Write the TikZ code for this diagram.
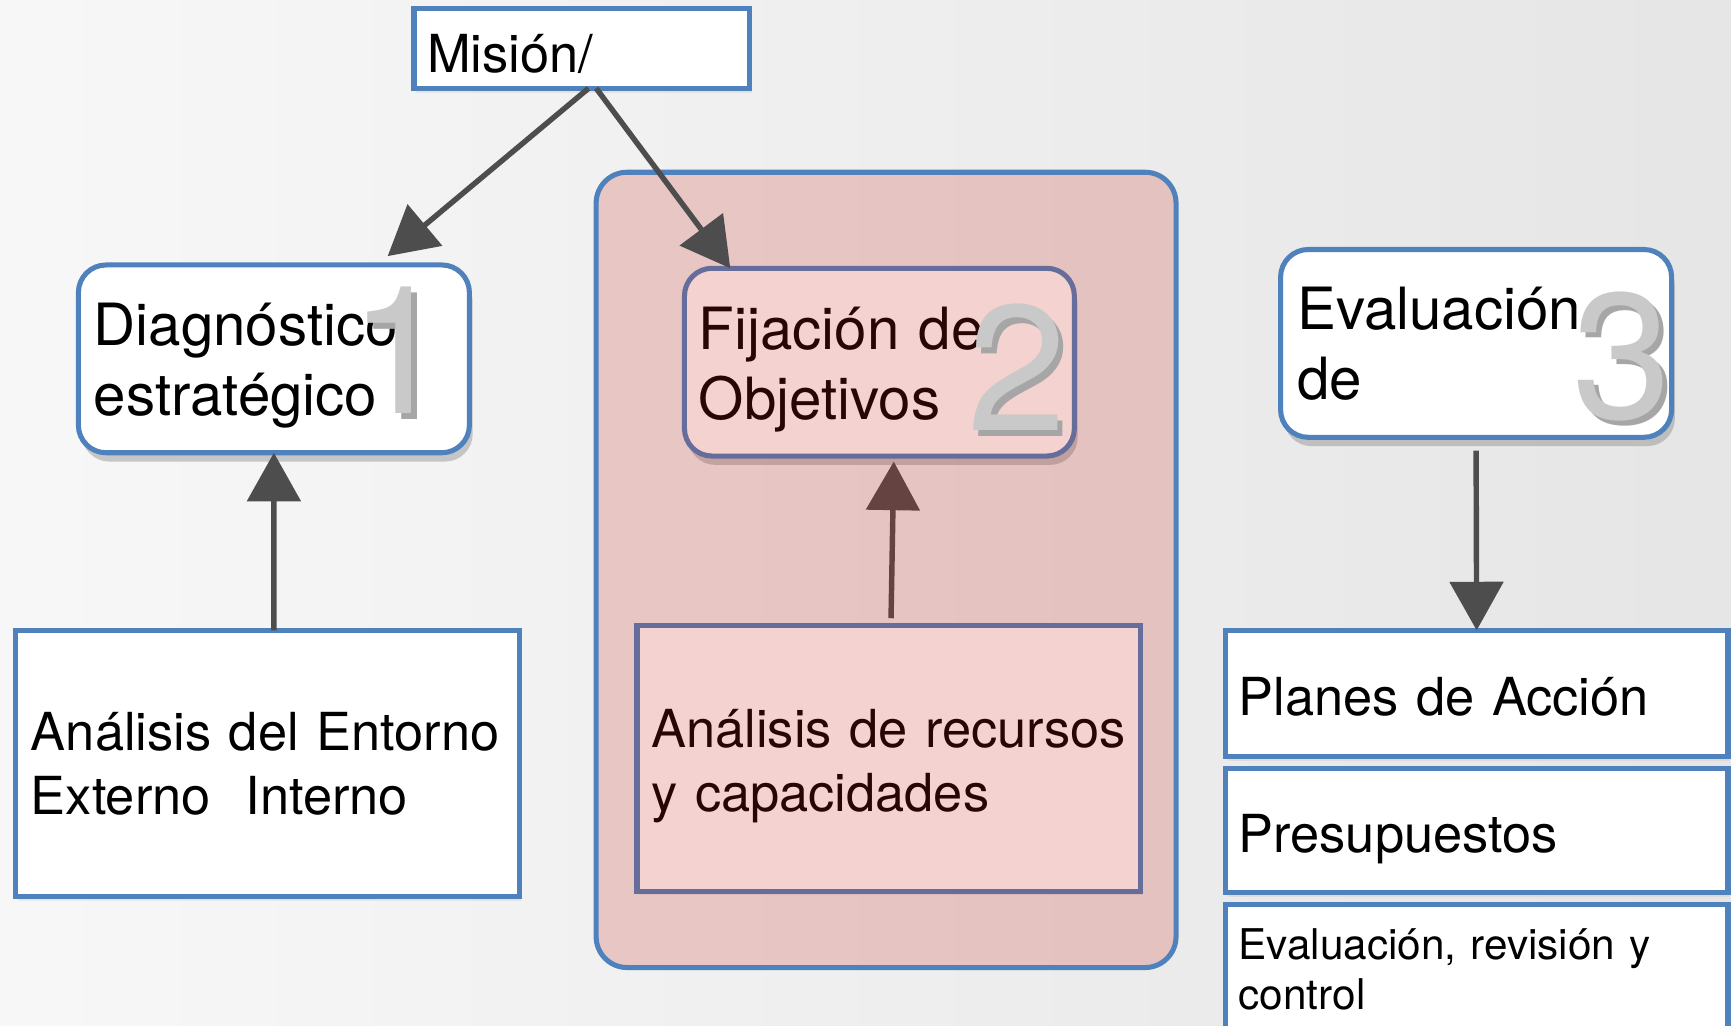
\documentclass[tikz,border=0pt]{standalone}
\usepackage{fontspec}
\setmainfont{TeX Gyre Heros}
\usetikzlibrary{arrows.meta,shadows}
\definecolor{ofblue}{HTML}{4F81BD}
\definecolor{ovred}{HTML}{C31E10}
\definecolor{arrgray}{HTML}{4D4D4D}
\definecolor{numgray}{HTML}{C9C9C9}
\hyphenpenalty=10000

\begin{document}
\begin{tikzpicture}[x=0.01cm,y=-0.01cm,
	box/.style={draw=ofblue,line width=1.3pt,fill=white,align=left,anchor=north west,inner ysep=0pt,outer sep=0pt},
	rbox/.style={box,rounded corners=0.25cm,drop shadow={shadow xshift=0.03cm,shadow yshift=-0.08cm,opacity=0.4}},
	sbox/.style={box,drop shadow={shadow xshift=0.02cm,shadow yshift=-0.04cm,opacity=0.12}},
	big/.style={font=\fontsize{15}{18}\selectfont},
	mid/.style={font=\fontsize{13.5}{16.5}\selectfont},
	arr/.style={draw=arrgray,line width=1.4pt,-{Triangle[length=0.44cm,width=0.48cm]}}]
\useasboundingbox (0,0) rectangle (1568,929);
\shade[left color=white!97!black,right color=black!10!white] (0,0) rectangle (1568,929);

\node[sbox,font=\fontsize{13.5}{16}\selectfont,inner xsep=0.12cm,text width=2.8cm,minimum height=0.72cm] (mision) at (375,8) {\rule{0pt}{0.95em}Misión/};
\node[rbox,big,inner xsep=0.14cm,text width=3.26cm,minimum height=1.7cm] (diag) at (71,240) {\rule{0pt}{0.97em}Diagnóstico\\estratégico};
\node[rbox,big,inner xsep=0.15cm,text width=3.24cm,minimum height=1.7cm] (eval) at (1160,226) {Evaluación\\de};
\node[sbox,mid,inner xsep=0.14cm,text width=4.28cm,minimum height=2.41cm] (entorno) at (14,571) {Análisis del Entorno\\Externo\ \ Interno};
\node[sbox,font=\fontsize{13.5}{16}\selectfont,inner xsep=0.12cm,text width=4.31cm,minimum height=1.14cm] (planes) at (1110,571) {\rule{0pt}{0.87em}Planes de Acción};
\node[sbox,font=\fontsize{13.5}{16}\selectfont,inner xsep=0.12cm,text width=4.31cm,minimum height=1.12cm] (presu) at (1110,696) {\rule{0pt}{1.06em}Presupuestos};
\node[sbox,font=\fontsize{10.9}{13.1}\selectfont,inner xsep=0.12cm,text width=4.31cm,minimum height=1.18cm] (control) at (1110,819) {Evaluación, revisión y\\control};

\node[rbox,big,inner xsep=0.13cm,text width=3.27cm,minimum height=1.7cm] (fij) at (620,243) {\rule{0pt}{1em}Fijación de\\Objetivos};
\node[sbox,mid,inner xsep=0.13cm,text width=4.3cm,minimum height=2.4cm] (recursos) at (577,567) {\rule{0pt}{1.03em}Análisis de recursos\\y capacidades};
\draw[arr] ([xshift=0.02cm,yshift=0.07cm]recursos.north) -- ([xshift=0.13cm,yshift=-0.05cm]fij.south);

\node[draw=ofblue,line width=1.3pt,fill=ovred,fill opacity=0.2,rounded corners=0.28cm,anchor=north west,
	minimum width=5.25cm,minimum height=7.2cm,inner sep=0pt,outer sep=0pt] (fase2) at (540,156) {};

\draw[arr] ([xshift=0.06cm]mision.south) -- ([xshift=1.03cm,yshift=0.08cm]diag.north);
\draw[arr] ([xshift=0.13cm]mision.south) -- ([xshift=-1.35cm]fij.north);
\draw[arr] ([xshift=0.06cm]entorno.north) -- (diag.south);
\draw[arr] ([yshift=-0.12cm]eval.south) -- (planes.north);

\foreach \n/\px/\py in {1/362/375,2/921/390,3/1469/379}
	\node[anchor=base,font=\fontsize{46}{46}\selectfont,text=numgray] (num\n) at (\px,\py)
		{\rlap{\kern0.05cm\raisebox{-0.05cm}{\textcolor{black!35}{\n}}}\n};
\end{tikzpicture}
\end{document}
